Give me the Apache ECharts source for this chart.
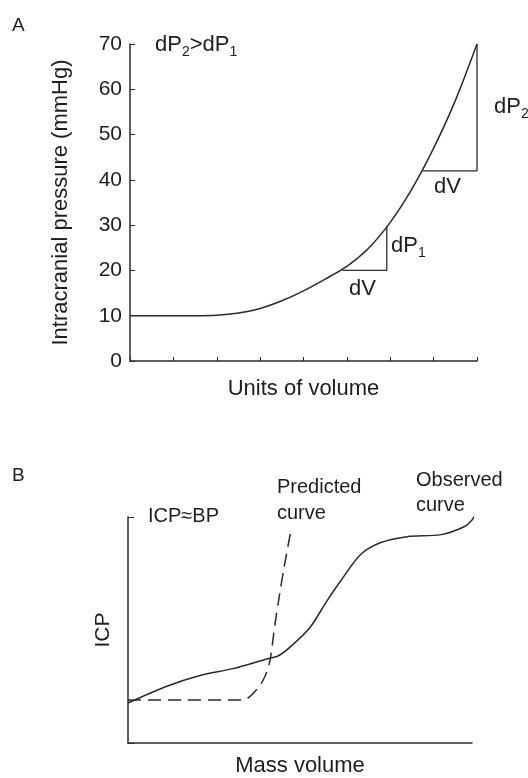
<!DOCTYPE html>
<html><head><meta charset="utf-8">
<script src="https://cdn.jsdelivr.net/npm/echarts@6/dist/echarts.min.js"></script>
<style>html,body{margin:0;padding:0;background:#fff}#c{width:528px;height:778px}</style>
</head><body><div id="c"></div>
<script>
// Panel A: pressure-volume curve
const volumeUnits = [0, 0.5, 1, 1.5, 2, 2.5, 3, 3.5, 4, 4.5, 5, 5.5, 6, 6.5, 7, 7.5, 8];
const pressureMmHg = [10, 10, 10, 10, 10.1, 10.6, 11.6, 13.3, 15.5, 18.1, 20.9, 24.9, 30.6, 38.0, 47.0, 57.5, 70];
const tri1X = [4.9, 5.92, 5.92];
const tri1Y = [20, 20, 29.8];
const tri2X = [6.75, 8, 8];
const tri2Y = [42, 42, 70];
const yTicksA = [0, 10, 20, 30, 40, 50, 60, 70];

// Panel B: ICP vs mass volume (arbitrary units 0-100)
const obsX = [0, 11.3, 20.9, 30.5, 40.4, 43.6, 47.1, 52.9, 57.8, 61.9, 67.7, 73.5, 81.1, 91.0, 97.7, 100, 102];
const obsY = [17.7, 25.1, 29.9, 32.9, 37.2, 38.5, 42.4, 51.1, 62.8, 71.9, 83.5, 88.7, 91.3, 92.2, 95.7, 98.7, 103.5];
const predX = [0, 16, 33.4, 37.5, 39.8, 41.3, 42.7, 43.9, 45.3, 47.4];
const predY = [19.0, 19.0, 19.0, 23.8, 29.4, 36.8, 52.4, 64.1, 77.1, 94.4];

const FONT = '"Liberation Sans", Arial, Helvetica, sans-serif';
const TXT = '#1e1e1e';
const LINE = '#2a2a2a';

const zip = (xs, ys) => xs.map((x, i) => [x, ys[i]]);

const chart = echarts.init(document.getElementById('c'), null, {renderer: 'canvas'});

function txt(x, y, text, size, extra) {
  return {
    type: 'text', x: x, y: y,
    style: Object.assign({text: text, fill: TXT, font: size + 'px ' + FONT, verticalAlign: 'top', align: 'left'}, extra || {})
  };
}
const subRich = {
  m: {fontSize: 22, fontFamily: FONT, color: TXT, verticalAlign: 'top', lineHeight: 25},
  s: {fontSize: 14, fontFamily: FONT, color: TXT, verticalAlign: 'bottom', lineHeight: 25}
};
function rtxt(x, y, text) {
  return {type: 'text', x: x, y: y, style: {text: text, rich: subRich, verticalAlign: 'top', align: 'left', fill: TXT}};
}

chart.setOption({
  animation: false,
  backgroundColor: '#fff',
  textStyle: {fontFamily: FONT, color: TXT},
  grid: [
    {left: 130, top: 44, width: 347, height: 317},
    {left: 128, top: 517, width: 344, height: 231}
  ],
  xAxis: [
    {gridIndex: 0, type: 'value', min: 0, max: 8, interval: 1,
     axisLine: {lineStyle: {color: LINE, width: 1.5}},
     axisTick: {show: true, inside: true, length: 4, lineStyle: {color: LINE}},
     axisLabel: {show: false}, splitLine: {show: false},
     name: 'Units of volume', nameLocation: 'middle', nameGap: 17,
     nameTextStyle: {fontSize: 22, color: TXT, fontFamily: FONT}},
    {gridIndex: 1, type: 'value', min: 0, max: 100,
     axisLine: {lineStyle: {color: LINE, width: 1.5}},
     axisTick: {show: false}, axisLabel: {show: false}, splitLine: {show: false},
     name: 'Mass volume', nameLocation: 'middle', nameGap: 12,
     nameTextStyle: {fontSize: 22, color: TXT, fontFamily: FONT}}
  ],
  yAxis: [
    {gridIndex: 0, type: 'value', min: 0, max: 70, interval: 10,
     axisLine: {show: true, lineStyle: {color: LINE, width: 1.5}},
     axisTick: {show: true, inside: true, length: 5, lineStyle: {color: LINE}},
     axisLabel: {fontSize: 21, color: TXT, fontFamily: FONT, margin: 8,
       formatter: v => yTicksA.includes(v) ? String(v) : ''},
     splitLine: {show: false},
     name: 'Intracranial pressure (mmHg)', nameLocation: 'middle', nameGap: 58,
     nameTextStyle: {fontSize: 22, color: TXT, fontFamily: FONT}},
    {gridIndex: 1, type: 'value', min: 0, max: 100, interval: 100,
     axisLine: {show: true, lineStyle: {color: LINE, width: 1.5}},
     axisTick: {show: true, inside: true, length: 6, lineStyle: {color: LINE}},
     axisLabel: {show: false}, splitLine: {show: false},
     name: 'ICP', nameLocation: 'middle', nameGap: 14,
     nameTextStyle: {fontSize: 21, color: TXT, fontFamily: FONT}}
  ],
  series: [
    {type: 'line', xAxisIndex: 0, yAxisIndex: 0, data: zip(volumeUnits, pressureMmHg),
     smooth: 0.3, symbol: 'none', lineStyle: {color: LINE, width: 1.5}},
    {type: 'line', xAxisIndex: 0, yAxisIndex: 0, data: zip(tri1X, tri1Y),
     symbol: 'none', lineStyle: {color: LINE, width: 1.3}},
    {type: 'line', xAxisIndex: 0, yAxisIndex: 0, data: zip(tri2X, tri2Y),
     symbol: 'none', lineStyle: {color: LINE, width: 1.3}},
    {type: 'line', xAxisIndex: 1, yAxisIndex: 1, data: zip(obsX, obsY), clip: false,
     smooth: 0.3, symbol: 'none', lineStyle: {color: LINE, width: 1.5}},
    {type: 'line', xAxisIndex: 1, yAxisIndex: 1, data: zip(predX, predY), clip: false,
     smooth: 0.3, symbol: 'none', lineStyle: {color: LINE, width: 1.5, type: [13, 7]}}
  ],
  graphic: [
    txt(12, 16, 'A', 19),
    rtxt(155, 34, '{m|dP}{s|2}{m|>dP}{s|1}'),
    rtxt(494, 96, '{m|dP}{s|2}'),
    txt(434, 176, 'dV', 22),
    rtxt(391, 235, '{m|dP}{s|1}'),
    txt(349, 278, 'dV', 22),
    txt(12, 466, 'B', 19),
    txt(148, 506, 'ICP\u2248BP', 20),
    txt(277, 474, 'Predicted\ncurve', 20, {lineHeight: 26}),
    txt(416, 468, 'Observed\ncurve', 20, {lineHeight: 25})
  ]
});
</script></body></html>
